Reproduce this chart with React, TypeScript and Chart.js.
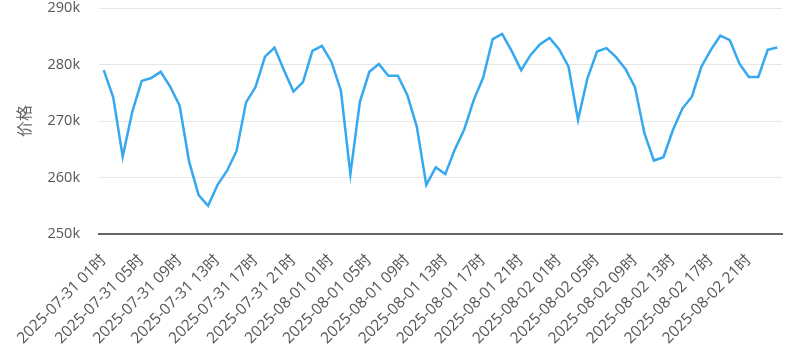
import React, { useEffect, useRef } from "react";
import { Chart, registerables } from "chart.js";

Chart.register(...registerables);

const timeLabels: string[] = [
  "2025-07-31 01时", "2025-07-31 02时", "2025-07-31 03时", "2025-07-31 04时",
  "2025-07-31 05时", "2025-07-31 06时", "2025-07-31 07时", "2025-07-31 08时",
  "2025-07-31 09时", "2025-07-31 10时", "2025-07-31 11时", "2025-07-31 12时",
  "2025-07-31 13时", "2025-07-31 14时", "2025-07-31 15时", "2025-07-31 16时",
  "2025-07-31 17时", "2025-07-31 18时", "2025-07-31 19时", "2025-07-31 20时",
  "2025-07-31 21时", "2025-07-31 22时", "2025-07-31 23时", "2025-08-01 00时",
  "2025-08-01 01时", "2025-08-01 02时", "2025-08-01 03时", "2025-08-01 04时",
  "2025-08-01 05时", "2025-08-01 06时", "2025-08-01 07时", "2025-08-01 08时",
  "2025-08-01 09时", "2025-08-01 10时", "2025-08-01 11时", "2025-08-01 12时",
  "2025-08-01 13时", "2025-08-01 14时", "2025-08-01 15时", "2025-08-01 16时",
  "2025-08-01 17时", "2025-08-01 18时", "2025-08-01 19时", "2025-08-01 20时",
  "2025-08-01 21时", "2025-08-01 22时", "2025-08-01 23时", "2025-08-02 00时",
  "2025-08-02 01时", "2025-08-02 02时", "2025-08-02 03时", "2025-08-02 04时",
  "2025-08-02 05时", "2025-08-02 06时", "2025-08-02 07时", "2025-08-02 08时",
  "2025-08-02 09时", "2025-08-02 10时", "2025-08-02 11时", "2025-08-02 12时",
  "2025-08-02 13时", "2025-08-02 14时", "2025-08-02 15时", "2025-08-02 16时",
  "2025-08-02 17时", "2025-08-02 18时", "2025-08-02 19时", "2025-08-02 20时",
  "2025-08-02 21时", "2025-08-02 22时", "2025-08-02 23时", "2025-08-03 00时",
];

const priceValues: number[] = [
  279000, 274200, 263700, 271600, 277100, 277600, 278700, 276100,
  272700, 262800, 256900, 255000, 258700, 261200, 264700, 273300,
  276000, 281400, 283000, 279000, 275200, 276900, 282400, 283300,
  280500, 275400, 260600, 273400, 278700, 280100, 278000, 278000,
  274600, 269000, 258700, 261800, 260600, 264900, 268500, 273700,
  277700, 284500, 285400, 282400, 279000, 281700, 283600, 284700,
  282700, 279600, 270200, 277600, 282300, 282900, 281300, 279200,
  276000, 267800, 263000, 263600, 268400, 272200, 274300, 279600,
  282600, 285100, 284300, 280200, 277800, 277800, 282600, 283000,
];

const yTitle = "价格";
const yMin = 250000;
const yMax = 290000;
const yStep = 10000;

const FONT = "'Open Sans', 'Noto Sans CJK SC', sans-serif";

export default function App() {
  const ref = useRef<HTMLCanvasElement | null>(null);

  useEffect(() => {
    if (!ref.current) return;
    const chart = new Chart(ref.current, {
      type: "line",
      data: {
        labels: timeLabels,
        datasets: [
          {
            label: yTitle,
            data: priceValues,
            borderColor: "#35a8ef",
            backgroundColor: "#35a8ef",
            borderWidth: 2.5,
            pointRadius: 0,
            pointHoverRadius: 0,
            tension: 0,
            fill: false,
          },
        ],
      },
      options: {
        animation: false,
        responsive: false,
        maintainAspectRatio: false,
        layout: { padding: { top: 8, right: 13, left: 16, bottom: 0 } },
        plugins: {
          legend: { display: false },
          tooltip: { enabled: false },
        },
        scales: {
          x: {
            offset: true,
            grid: { display: false, drawTicks: false },
            border: { display: true, color: "#666", width: 2 },
            afterFit: (s: any) => {
              s.paddingLeft = 0;
              s.paddingRight = 0;
              s.height = 112;
            },
            ticks: {
              autoSkip: false,
              maxRotation: 45,
              minRotation: 45,
              padding: 17,
              color: "#555",
              font: { family: FONT, size: 15.5 },
              callback: (_v: any, i: number) => (i % 4 === 0 ? timeLabels[i] : ""),
            },
          },
          y: {
            min: yMin,
            max: yMax,
            grid: { color: "#e6e6e6", drawTicks: false, lineWidth: 1 },
            border: { display: false },
            afterFit: (s: any) => {
              s.paddingTop = 0;
              s.paddingBottom = 0;
              s.width = 83;
            },
            title: {
              display: true,
              text: yTitle,
              color: "#666",
              font: { family: FONT, size: 16 },
              padding: { top: 0, bottom: 11 },
            },
            ticks: {
              stepSize: yStep,
              padding: 19,
              color: "#555",
              font: { family: FONT, size: 14.5 },
              callback: (v: any) => `${Number(v) / 1000}k`,
            },
          },
        },
      },
    });
    return () => chart.destroy();
  }, []);

  return (
    <div style={{ position: "fixed", left: 0, top: 0, width: 795, height: 346, background: "#fff" }}>
      <canvas ref={ref} width={795} height={346} style={{ display: "block" }} />
    </div>
  );
}
